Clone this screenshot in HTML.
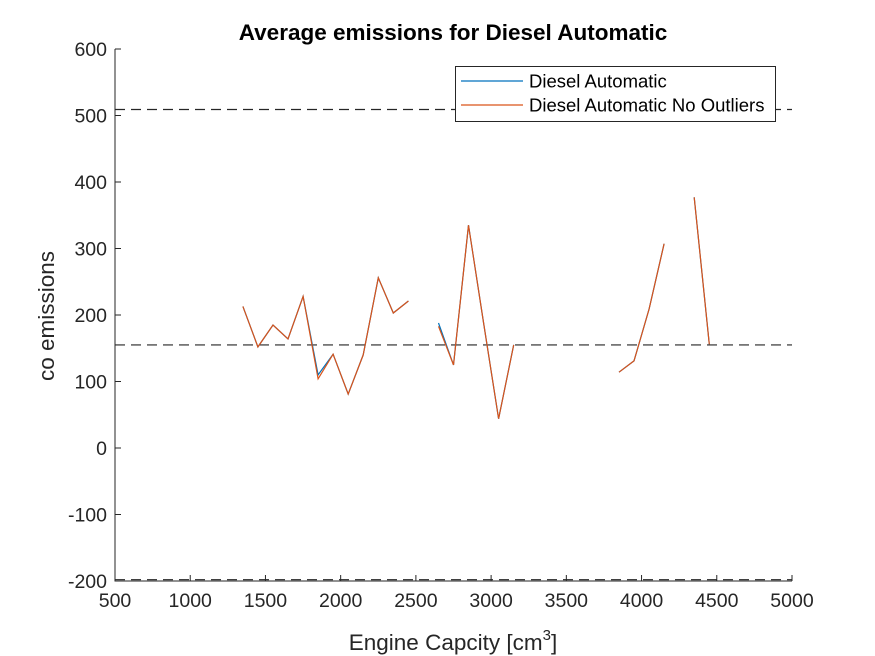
<!DOCTYPE html>
<html><head><meta charset="utf-8"><style>
body{margin:0;background:#fff;}
svg{display:block;font-family:"Liberation Sans",Arial,sans-serif;}
</style></head><body>
<svg id="chart" width="875" height="656" viewBox="0 0 875 656">
<rect x="0" y="0" width="875" height="656" fill="#fff"/>
<g id="plot"></g>
</svg>
<script>
const engineSizes=[1350,1450,1550,1650,1750,1850,1950,2050,2150,2250,2350,2450,2550,2650,2750,2850,2950,3050,3150,3250,3350,3450,3550,3650,3750,3850,3950,4050,4150,4250,4350,4450];
const seriesAll=[213,152,185,164,228,110,141,81,140,256,203,221,null,188,125,335,188,44,155,null,null,null,null,null,null,114,131,209,307,null,377,156];
const seriesNoOutliers=[213,152,185,164,228,104,141,81,140,256,203,221,null,183,125,335,188,44,155,null,null,null,null,null,null,114,131,209,307,null,377,156];
const refLines=[509,155,-198];
const xTicks=[500,1000,1500,2000,2500,3000,3500,4000,4500,5000];
const yTicks=[-200,-100,0,100,200,300,400,500,600];

const L=115,R=792,T=49,B=581;
const xS=v=>L+(v-500)/4500*(R-L);
const yS=v=>B-(v+200)/800*(B-T);
const NS="http://www.w3.org/2000/svg";
const g=document.getElementById('plot');
function mk(tag,attrs,parent){const e=document.createElementNS(NS,tag);for(const k in attrs)e.setAttribute(k,attrs[k]);(parent||g).appendChild(e);return e;}

let ax=mk('path',{d:`M${L},${T}V${B}H${R}`,fill:'none',stroke:'#262626','stroke-width':1});


xTicks.forEach(t=>{
  const x=xS(t);
  let tk=mk('line',{x1:x,x2:x,y1:B,y2:B-6,stroke:'#262626'});
  
  
  let tx=mk('text',{x:x,y:B+26,'text-anchor':'middle','font-size':19.5,fill:'#262626'});
  tx.textContent=t;
  
  
});
yTicks.forEach(t=>{
  const y=yS(t);
  let tk=mk('line',{x1:L,x2:L+6,y1:y,y2:y,stroke:'#262626'});
  
  
  let tx=mk('text',{x:L-8,y:y+7,'text-anchor':'end','font-size':19.5,fill:'#262626'});
  tx.textContent=t;
  
  
});
refLines.forEach(v=>{
  let l=mk('line',{x1:L,x2:R,y1:yS(v),y2:yS(v),stroke:'#262626','stroke-width':1.2,'stroke-dasharray':'10,6'});
  
  
});
function drawSeries(vals,color,name){
  let d='',pen=false;
  vals.forEach((v,i)=>{
    if(v===null){pen=false;return;}
    d+=(pen?'L':'M')+xS(engineSizes[i]).toFixed(1)+','+yS(v).toFixed(1);
    pen=true;
  });
  let p=mk('path',{d:d,fill:'none',stroke:color,'stroke-width':1.2});
  
  
}
drawSeries(seriesAll,'#0072BD','series-diesel-automatic');
drawSeries(seriesNoOutliers,'#D95319','series-no-outliers');

let ti=mk('text',{x:453,y:40,'text-anchor':'middle','font-size':22.5,'font-weight':'bold',fill:'#000'});
ti.textContent='Average emissions for Diesel Automatic';


let yl=mk('text',{x:0,y:0,'text-anchor':'middle','font-size':22.5,fill:'#262626',transform:`translate(54,316) rotate(-90)`});
yl.textContent='co emissions';


let xl=mk('text',{x:453,y:650,'text-anchor':'middle','font-size':22.5,fill:'#262626'});
xl.innerHTML='Engine Capcity [cm<tspan dy="-10" font-size="15">3</tspan><tspan dy="10">]</tspan>';



let lg=mk('g',{});


mk('rect',{x:455.5,y:66.5,width:320,height:55,fill:'#fff',stroke:'#262626'},lg);
[['Diesel Automatic','#0072BD',81],['Diesel Automatic No Outliers','#D95319',105]].forEach(([n,c,y])=>{
  let e=mk('g',{},lg);
  
  
  mk('line',{x1:461,x2:523,y1:y,y2:y,stroke:c,'stroke-width':1.2},e);
  let t=mk('text',{x:529,y:y+6.5,'font-size':18.5,fill:'#000'},e);
  t.textContent=n;
});
</script>
</body></html>
